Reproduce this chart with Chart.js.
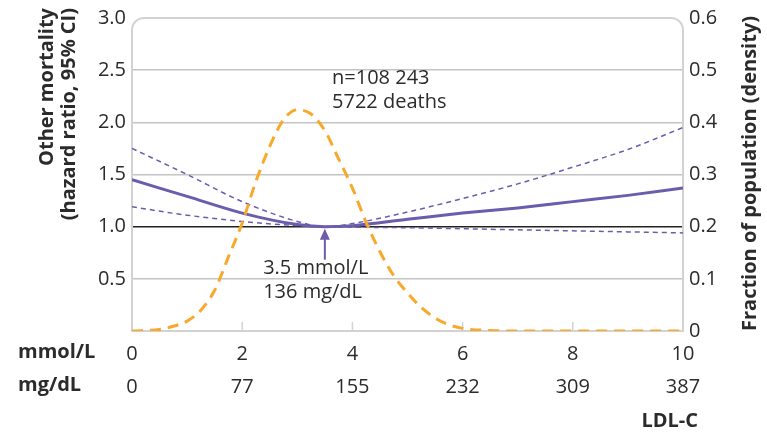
<!DOCTYPE html>
<html>
<head>
<meta charset="utf-8">
<script src="https://cdn.jsdelivr.net/npm/chart.js@4"></script>
<style>
  html, body { margin: 0; padding: 0; background: #fff; }
  #wrap { width: 767px; height: 432px; }
</style>
</head>
<body>
<div id="wrap"><canvas id="ldl_chart" width="767" height="432"></canvas></div>
<script>
// LDL-C in mmol/L where the hazard ratio curves are sampled
const ldlPoints = [0, 1, 2, 3, 3.5, 4, 5, 6, 7, 8, 9, 10];
const hrEstimate = [1.45, 1.29, 1.13, 1.02, 1.0, 1.01, 1.07, 1.13, 1.18, 1.24, 1.30, 1.37];
const hrUpper = [1.75, 1.50, 1.24, 1.05, 1.0, 1.03, 1.14, 1.27, 1.41, 1.57, 1.74, 1.95];
const hrLower = [1.19, 1.11, 1.05, 1.01, 1.0, 0.995, 0.99, 0.98, 0.97, 0.96, 0.95, 0.94];

// population density of LDL-C
const densityPoints = [0, 0.5, 0.75, 1, 1.25, 1.5, 1.75, 2, 2.25, 2.5, 2.75, 3, 3.25, 3.5, 3.75, 4, 4.25, 4.5, 4.75, 5, 5.25, 5.5, 5.75, 6, 6.5, 7, 8, 9, 10];
const density = [0, 0.003, 0.009, 0.019, 0.040, 0.078, 0.142, 0.207, 0.287, 0.354, 0.405, 0.424, 0.416, 0.384, 0.330, 0.274, 0.208, 0.152, 0.106, 0.073, 0.045, 0.025, 0.012, 0.005, 0.001, 0, 0, 0, 0];

// x axis tick labels, two unit rows
const mmolTicks = [0, 2, 4, 6, 8, 10];
const mgdlTicks = ['0', '77', '155', '232', '309', '387'];

const nadir = 3.5;
const nadirLabel = ['3.5 mmol/L', '136 mg/dL'];
const cohortLabel = ['n=108 243', '5722 deaths'];

const purple = '#6b5cae';
const orange = '#f8a92c';
const textColor = '#2b2b2b';
const fontFamily = "'Open Sans', 'Noto Sans', sans-serif";

function pairs(xs, ys) {
  return xs.map((x, i) => ({ x: x, y: ys[i] }));
}

const extras = {
  id: 'extras',
  beforeDatasetsDraw(chart) {
    const { ctx, chartArea: a } = chart;
    const xs = chart.scales.x;
    ctx.save();
    // frame with rounded top corners
    const r = 12;
    ctx.strokeStyle = '#d2d2d2';
    ctx.lineWidth = 2;
    ctx.beginPath();
    ctx.moveTo(a.left, a.bottom);
    ctx.lineTo(a.left, a.top + r);
    ctx.arcTo(a.left, a.top, a.left + r, a.top, r);
    ctx.lineTo(a.right - r, a.top);
    ctx.arcTo(a.right, a.top, a.right, a.top + r, r);
    ctx.lineTo(a.right, a.bottom);
    ctx.closePath();
    ctx.stroke();
    // small inner tick marks on the bottom edge
    ctx.lineWidth = 1.5;
    mmolTicks.slice(1, -1).forEach(v => {
      const px = xs.getPixelForValue(v);
      ctx.beginPath();
      ctx.moveTo(px, a.bottom);
      ctx.lineTo(px, a.bottom - 9);
      ctx.stroke();
    });
    ctx.restore();
  },
  afterDatasetsDraw(chart) {
    const { ctx, chartArea: a } = chart;
    const xs = chart.scales.x;
    const ys = chart.scales.y;
    ctx.save();

    // arrow pointing at the nadir
    const ax = xs.getPixelForValue(nadir);
    const tip = ys.getPixelForValue(1.0) + 2;
    ctx.strokeStyle = purple;
    ctx.fillStyle = purple;
    ctx.lineWidth = 2;
    ctx.beginPath();
    ctx.moveTo(ax, tip + 8);
    ctx.lineTo(ax, tip + 31);
    ctx.stroke();
    ctx.beginPath();
    ctx.moveTo(ax, tip);
    ctx.lineTo(ax - 5, tip + 11);
    ctx.lineTo(ax + 5, tip + 11);
    ctx.closePath();
    ctx.fill();

    ctx.fillStyle = textColor;
    ctx.font = '20px ' + fontFamily;
    ctx.textAlign = 'left';
    ctx.textBaseline = 'middle';
    ctx.fillText(cohortLabel[0], xs.getPixelForValue(3.63), ys.getPixelForValue(2.42));
    ctx.fillText(cohortLabel[1], xs.getPixelForValue(3.63), ys.getPixelForValue(2.19));
    ctx.fillText(nadirLabel[0], xs.getPixelForValue(2.38), ys.getPixelForValue(0.60));
    ctx.fillText(nadirLabel[1], xs.getPixelForValue(2.38), ys.getPixelForValue(0.37));

    // unit row labels and axis name
    ctx.font = 'bold 20px ' + fontFamily;
    ctx.fillText('mmol/L', 18, 352);
    ctx.fillText('mg/dL', 18, 385);
    ctx.textAlign = 'right';
    ctx.fillText('LDL-C', 698, 421);

    // left title, two lines ending at the top
    ctx.save();
    ctx.translate(47, 8);
    ctx.rotate(-Math.PI / 2);
    ctx.textAlign = 'right';
    ctx.fillText('Other mortality', 0, 0);
    ctx.fillText('(hazard ratio, 95% CI)', 0, 22);
    ctx.restore();

    // right title, starting at the bottom of the plot
    ctx.save();
    ctx.translate(750, a.bottom);
    ctx.rotate(-Math.PI / 2);
    ctx.textAlign = 'left';
    ctx.fillText('Fraction of population (density)', 0, 0);
    ctx.restore();

    ctx.restore();
  }
};

new Chart(document.getElementById('ldl_chart'), {
  type: 'line',
  data: {
    datasets: [{
      label: 'Density',
      data: pairs(densityPoints, density),
      yAxisID: 'y1',
      borderColor: orange,
      borderWidth: 3,
      borderDash: [11, 7],
      pointRadius: 0,
      cubicInterpolationMode: 'monotone',
      fill: false
    }, {
      label: 'Hazard ratio',
      data: pairs(ldlPoints, hrEstimate),
      yAxisID: 'y',
      borderColor: purple,
      borderWidth: 3,
      pointRadius: 0,
      cubicInterpolationMode: 'monotone',
      fill: false
    }, {
      label: 'Upper 95% CI',
      data: pairs(ldlPoints, hrUpper),
      yAxisID: 'y',
      borderColor: purple,
      borderWidth: 1.5,
      borderDash: [5, 4],
      pointRadius: 0,
      cubicInterpolationMode: 'monotone',
      fill: false
    }, {
      label: 'Lower 95% CI',
      data: pairs(ldlPoints, hrLower),
      yAxisID: 'y',
      borderColor: purple,
      borderWidth: 1.5,
      borderDash: [5, 4],
      pointRadius: 0,
      cubicInterpolationMode: 'monotone',
      fill: false
    }]
  },
  options: {
    responsive: false,
    animation: false,
    layout: { padding: { top: 17, left: 0, right: 0, bottom: 0 } },
    plugins: {
      legend: { display: false },
      tooltip: { enabled: false }
    },
    scales: {
      x: {
        type: 'linear',
        min: 0,
        max: 10,
        afterFit(scale) { scale.height = 101; },
        afterBuildTicks(scale) { scale.ticks = mmolTicks.map(v => ({ value: v })); },
        grid: { display: false, drawTicks: false },
        border: { display: false },
        ticks: {
          padding: 7,
          color: textColor,
          font: { family: fontFamily, size: 20, lineHeight: 1.65 },
          maxRotation: 0,
          callback(value) {
            const i = mmolTicks.indexOf(value);
            return [String(value), mgdlTicks[i]];
          }
        }
      },
      y: {
        position: 'left',
        min: 0,
        max: 3,
        afterFit(scale) { scale.width = 132; },
        grid: {
          drawTicks: false,
          lineWidth: 1.5,
          color(c) {
            const v = c.tick.value;
            if (v === 1) return '#222';
            if (v === 0 || v === 3) return 'rgba(0,0,0,0)';
            return '#c4c4c4';
          }
        },
        border: { display: false },
        ticks: {
          stepSize: 0.5,
          padding: 6,
          color: textColor,
          font: { family: fontFamily, size: 20 },
          callback(value) { return value === 0 ? '' : value.toFixed(1); }
        }
      },
      y1: {
        position: 'right',
        min: 0,
        max: 0.6,
        afterFit(scale) { scale.width = 84; },
        grid: { display: false, drawTicks: false },
        border: { display: false },
        ticks: {
          stepSize: 0.1,
          padding: 6,
          color: textColor,
          font: { family: fontFamily, size: 20 },
          callback(value) { return value === 0 ? '0' : value.toFixed(1); }
        }
      }
    }
  },
  plugins: [extras]
});
</script>
</body>
</html>
